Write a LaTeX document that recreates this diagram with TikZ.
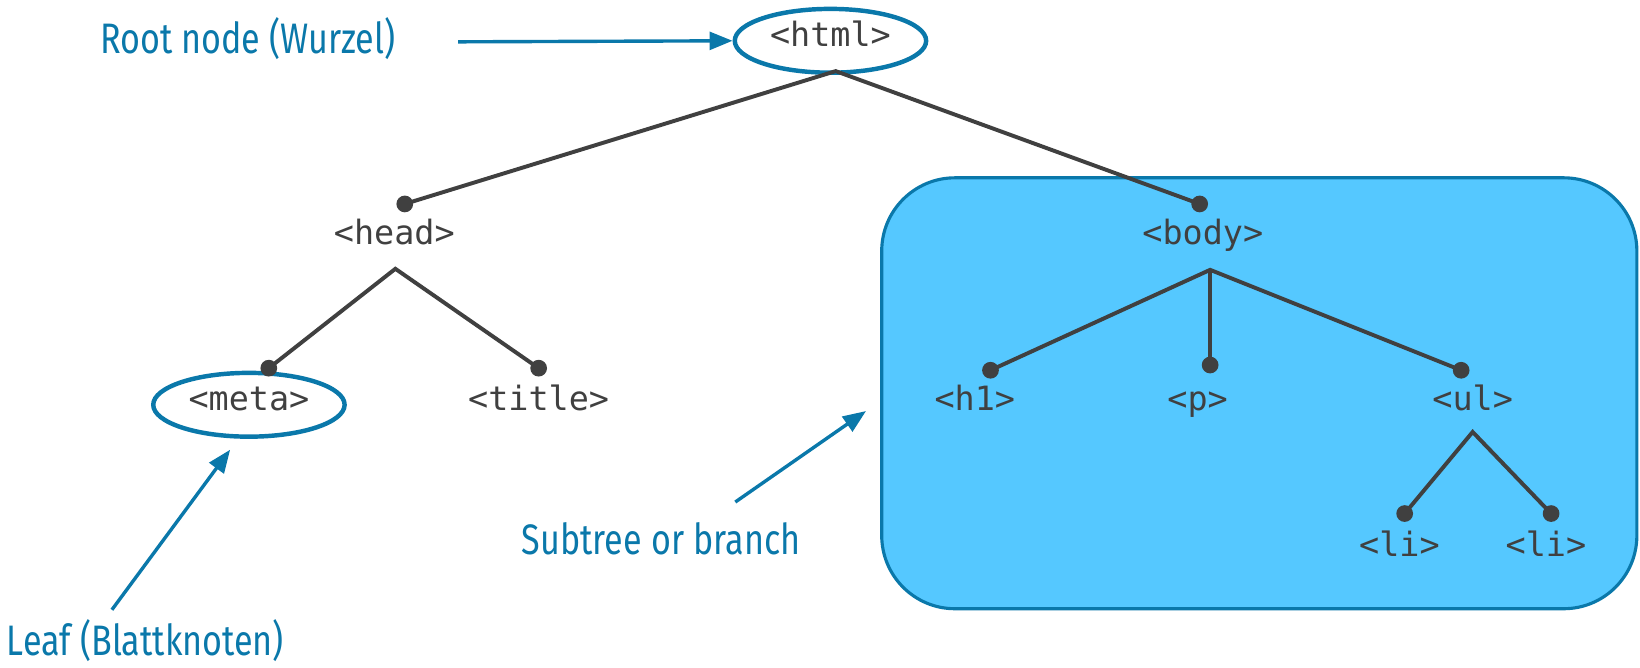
\documentclass[tikz,border=0pt]{standalone}
\usepackage{fontspec}
\setmonofont{DejaVu Sans Mono}
\newfontfamily\labelfont[FakeStretch=0.8]{Fira Sans}
\usepackage{xcolor}
\usetikzlibrary{positioning,calc,shapes.geometric,arrows.meta}

\definecolor{noteblue}{HTML}{0A78AA}
\definecolor{treegray}{HTML}{404040}
\definecolor{branchfill}{HTML}{55C8FF}

\begin{document}
\begin{tikzpicture}[x=0.02cm, y=-0.02cm,
		tag/.style={font=\ttfamily\fontsize{18.2}{20}\selectfont, text=treegray, inner sep=0pt, text height=0.72em, text depth=0.1em},
		leafring/.style={ellipse, draw=noteblue, line width=0.085cm, minimum width=3.66cm, minimum height=1.22cm},
		dot/.style={circle, fill=treegray, inner sep=0pt, minimum size=0.32cm},
		edge/.style={treegray, line width=0.075cm},
		note/.style={font=\labelfont\fontsize{23.2}{25}\selectfont, text=noteblue, anchor=base},
		pointer/.style={noteblue, line width=0.065cm, -{Triangle[length=0.44cm,width=0.34cm]}}]
			\useasboundingbox (0,0) rectangle (1568,638);
			% subtree box
			\draw [noteblue, line width=0.06cm, fill=branchfill, rounded corners=1.4cm] (843,170) rectangle (1565,582);
			% tags
			\node[tag, leafring] (html) at (794,39) {<html>};
			\node[tag] (head) at (377,228) {<head>};
			\node[tag, leafring] (meta) at (238,387) {<meta>};
			\node[tag] (title) at (515,387) {<title>};
			\node[tag] (body) at (1150,228) {<body>};
			\node[tag] (h1) at (932,387) {<h1>};
			\node[tag] (p) at (1145,387) {<p>};
			\node[tag] (ul) at (1408,387) {<ul>};
			\node[tag] (li1) at (1338,527) {<li>};
			\node[tag] (li2) at (1478,527) {<li>};
			% dots
			\node[dot] (headdot) at (387,195) {};
			\node[dot] (bodydot) at (1147,195) {};
			\node[dot] (metadot) at (257,352) {};
			\node[dot] (titledot) at (515,352) {};
			\node[dot] (h1dot) at (947,354) {};
			\node[dot] (pdot) at (1157,349) {};
			\node[dot] (uldot) at (1397,354) {};
			\node[dot] (lidot1) at (1343,491) {};
			\node[dot] (lidot2) at (1483,491) {};
			% forks under the tags
			\coordinate (htmlfork) at (799,68);
			\coordinate (headfork) at (378,257);
			\coordinate (bodyfork) at (1157,258);
			\coordinate (ulfork) at (1408,413);
			% edges
			\draw [edge] (headdot.center) -- (htmlfork) -- (bodydot.center);
			\draw [edge] (metadot.center) -- (headfork) -- (titledot.center);
			\draw [edge] (h1dot.center) -- (bodyfork) -- (uldot.center);
			\draw [edge] (bodyfork) -- (pdot.center);
			\draw [edge] (lidot1.center) -- (ulfork) -- (lidot2.center);
			% notes
			\node[note] (rootnote) at (237,51) {Root node (Wurzel)};
			\node[note] (leafnote) at (139,627) {Leaf (Blattknoten)};
			\node[note] (branchnote) at (632,530) {Subtree or branch};
			\coordinate (rootfrom) at (438,40);
			\coordinate (leaffrom) at (107,583);
			\coordinate (leafto) at (220,430);
			\coordinate (branchfrom) at (703,480);
			\coordinate (branchto) at (828,393);
			\draw [pointer] (rootfrom) -- (html.west);
			\draw [pointer] (leaffrom) -- (leafto);
			\draw [pointer] (branchfrom) -- (branchto);
		\end{tikzpicture}
\end{document}
